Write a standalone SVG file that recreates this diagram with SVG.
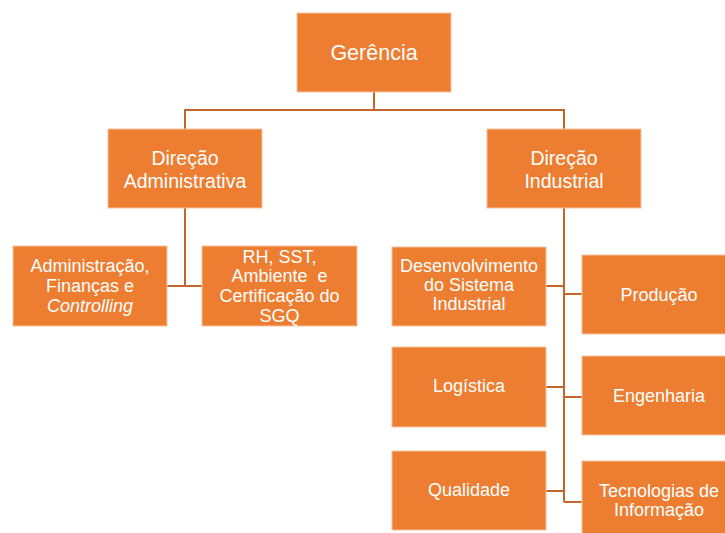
<svg xmlns="http://www.w3.org/2000/svg" width="725" height="533" viewBox="0 0 725 533">
  <style>
    .box { fill: #ED7D31; stroke: #F6C3A0; stroke-width: 1; }
    .lbl { font-family: "Liberation Sans", Arial, sans-serif; font-size: 18px; fill: #FFFFFF; text-anchor: middle; }
    .big { font-size: 19.5px; }
    .top { font-size: 21.5px; }
    .conn { fill: none; stroke: #C4652A; stroke-width: 2; }
  </style>
  <rect width="725" height="533" fill="#FFFFFF"/>

  <g id="connectors">
    <!-- Gerência to the two directorates -->
    <path class="conn" d="M374 92 V110 M185 110 H564 M185 109 V129 M564 109 V129"/>
    <!-- administrative branch -->
    <path class="conn" d="M185 208 V286 M167 286 H202"/>
    <!-- industrial branch spine and stubs -->
    <path class="conn" d="M564 208 V502"/>
    <path class="conn" d="M546 286 H564 M546 387 H564 M546 491 H564"/>
    <path class="conn" d="M564 294 H582 M564 397 H582 M564 502 H582"/>
  </g>

  <g id="gerencia">
    <rect class="box" x="297" y="13" width="154" height="79"/>
    <text class="lbl top" x="374" y="60">Gerência</text>
  </g>

  <g id="direcao-administrativa">
    <rect class="box" x="108" y="129" width="154" height="79"/>
    <text class="lbl big" x="185" y="165">Direção</text>
    <text class="lbl big" x="185" y="188">Administrativa</text>
  </g>

  <g id="direcao-industrial">
    <rect class="box" x="487" y="129" width="154" height="79"/>
    <text class="lbl big" x="564" y="165">Direção</text>
    <text class="lbl big" x="564" y="188">Industrial</text>
  </g>

  <g id="administracao">
    <rect class="box" x="13" y="246" width="154" height="80"/>
    <text class="lbl" x="90" y="272">Administração,</text>
    <text class="lbl" x="90" y="292">Finanças e</text>
    <text class="lbl" x="90" y="311.5" font-style="italic">Controlling</text>
  </g>

  <g id="rh-sst">
    <rect class="box" x="202" y="246" width="155" height="80"/>
    <text class="lbl" x="279.5" y="262.5">RH, SST,</text>
    <text class="lbl" x="279.5" y="282">Ambiente&#160; e</text>
    <text class="lbl" x="279.5" y="302">Certificação do</text>
    <text class="lbl" x="279.5" y="321.5">SGQ</text>
  </g>

  <g id="desenvolvimento">
    <rect class="box" x="392" y="247" width="154" height="79"/>
    <text class="lbl" x="469" y="272">Desenvolvimento</text>
    <text class="lbl" x="469" y="291">do Sistema</text>
    <text class="lbl" x="469" y="310">Industrial</text>
  </g>

  <g id="logistica">
    <rect class="box" x="392" y="347" width="154" height="80"/>
    <text class="lbl" x="469" y="392">Logística</text>
  </g>

  <g id="qualidade">
    <rect class="box" x="392" y="451" width="154" height="79"/>
    <text class="lbl" x="469" y="495.5">Qualidade</text>
  </g>

  <g id="producao">
    <rect class="box" x="582" y="255" width="154" height="79"/>
    <text class="lbl" x="659" y="300.5">Produção</text>
  </g>

  <g id="engenharia">
    <rect class="box" x="582" y="356" width="154" height="79"/>
    <text class="lbl" x="659" y="402">Engenharia</text>
  </g>

  <g id="tecnologias">
    <rect class="box" x="582" y="461" width="154" height="80"/>
    <text class="lbl" x="659" y="497">Tecnologias de</text>
    <text class="lbl" x="659" y="516">Informação</text>
  </g>
</svg>
